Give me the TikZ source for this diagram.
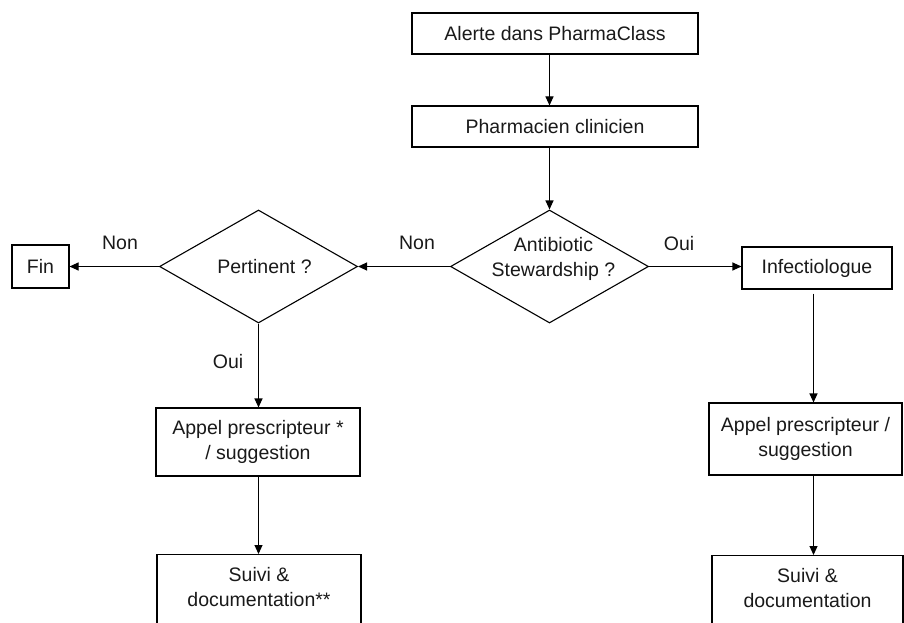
\documentclass[tikz,border=0pt]{standalone}
\usepackage{fontspec}
\setmainfont{Liberation Sans}
\usetikzlibrary{shapes.geometric,arrows.meta}
\begin{document}
\begin{tikzpicture}[x=1pt,y=-1pt,
  every node/.style={font=\fontsize{19.5}{25}\selectfont, text=black!90},
  box/.style={draw, line width=1.1pt, inner sep=0pt, align=center},
  dia/.style={draw, diamond, line width=1.1pt, inner sep=0pt, minimum width=198pt, minimum height=113pt},
  arr/.style={-{Triangle[length=9pt,width=8pt]}, line width=1.1pt},
  lab/.style={inner sep=0pt}]
\useasboundingbox (0,0) rectangle (904,623);
\clip (0,0) rectangle (904,623);
\node[box, minimum width=286pt, minimum height=41pt] (al) at (555,33.5) {Alerte dans PharmaClass};
\node[box, minimum width=286pt, minimum height=41pt] (pc) at (555,126.5) {Pharmacien clinicien};
\node[dia, label={[lab, align=center, xshift=4pt, yshift=7.5pt]center:Antibiotic\\Stewardship ?}] (ab) at (549.5,266.5) {};
\node[dia, label={[lab, xshift=6pt]center:Pertinent ?}] (pe) at (258.5,266.5) {};
\node[box, minimum width=57pt, minimum height=43pt] (fin) at (40.5,266.5) {Fin};
\node[box, minimum width=150pt, minimum height=42pt] (inf) at (817,268) {Infectiologue};
\node[box, minimum width=204pt, minimum height=68pt] (apl) at (258,442) {Appel prescripteur *\\/ suggestion};
\node[box, minimum width=193pt, minimum height=72pt] (apr) at (805.5,439) {Appel prescripteur /\\suggestion};
\node[box, anchor=north, minimum width=204pt, minimum height=90pt,
  label={[lab, anchor=north, align=center, yshift=-13pt]north:Suivi \&\\documentation**}] (sul) at (259,554) {};
\node[box, anchor=north, minimum width=191pt, minimum height=90pt,
  label={[lab, anchor=north, align=center, yshift=-13pt]north:Suivi \&\\documentation}] (sur) at (807.5,555) {};
\node[lab] (non1) at (120,243) {Non};
\node[lab] (non2) at (417,243) {Non};
\node[lab] (oui1) at (679,244) {Oui};
\node[lab] (oui2) at (228,362) {Oui};
\draw[arr] (al.south -| ab.north) -- (pc.north -| ab.north);
\draw[arr] (pc.south -| ab.north) -- (ab.north);
\draw[arr] (ab.west) -- (pe.east);
\draw[arr] (pe.west) -- (fin.east);
\draw[arr] (ab.east) -- (ab.east -| inf.west);
\draw[arr] (pe.south) -- (pe.south |- apl.north);
\draw[arr] (apl.south -| pe.south) -- (sul.north -| pe.south);
\draw[arr, shorten <=4pt] (inf.south -| apr.north) ++(8,0) coordinate (c1) (c1) -- (c1 |- apr.north);
\draw[arr] (apr.south -| c1) -- (sur.north -| c1);
\end{tikzpicture}
\end{document}
